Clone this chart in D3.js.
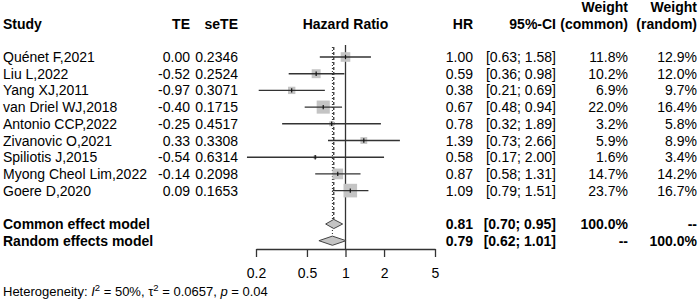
<!DOCTYPE html>
<html><head><meta charset="utf-8">
<script src="https://cdn.jsdelivr.net/npm/d3@7"></script>
<style>
body{margin:0;background:#fff;}
svg text{font-family:Arial,"Liberation Sans",sans-serif;font-size:14px;fill:#000;}
</style></head><body>
<svg id="c" width="699" height="301"></svg>
<script>
const studies = ["Quénet F,2021","Liu L,2022","Yang XJ,2011","van Driel WJ,2018","Antonio CCP,2022","Zivanovic O,2021","Spiliotis J,2015","Myong Cheol Lim,2022","Goere D,2020"];
const te = ["0.00","-0.52","-0.97","-0.40","-0.25","0.33","-0.54","-0.14","0.09"];
const seTE = ["0.2346","0.2524","0.3071","0.1715","0.4517","0.3308","0.6314","0.2098","0.1653"];
const hr = [1.00,0.59,0.38,0.67,0.78,1.39,0.58,0.87,1.09];
const lower = [0.63,0.36,0.21,0.48,0.32,0.73,0.17,0.58,0.79];
const upper = [1.58,0.98,0.69,0.94,1.89,2.66,2.00,1.31,1.51];
const wCommon = [11.8,10.2,6.9,22.0,3.2,5.9,1.6,14.7,23.7];
const wRandom = [12.9,12.0,9.7,16.4,5.8,8.9,3.4,14.2,16.7];
const pooledLabels = ["Common effect model","Random effects model"];
const pooledHR = [0.81,0.79];
const pooledLower = [0.70,0.62];
const pooledUpper = [0.95,1.01];
const pooledWc = ["100.0%","--"];
const pooledWr = ["--","100.0%"];
const ticks = [0.2,0.5,1,2,5];

const svg = d3.select("#c");
const x = d3.scaleLog().domain([0.2,5]).range([256,435]);
const row = d3.scaleLinear().domain([0,1]).range([57,57+16.7]);
const box = d3.scaleSqrt().domain([0,23.7]).range([0,13.6]);
const f2 = d3.format(".2f");
const f1 = v => d3.format(".1f")(v)+"%";

const cols = {study:3, te:190, se:238, hr:473, ci:556, wc:628, wr:697};

function txt(xp, yp, s, anchor, bold){
  return svg.append("text").attr("x",xp).attr("y",yp).attr("dy","0.36em")
    .attr("text-anchor",anchor||"start").style("font-weight",bold?"bold":"normal").text(s);
}

// headers
txt(cols.study,row(-2),"Study","start",true);
txt(cols.te,row(-2),"TE","end",true);
txt(cols.se,row(-2),"seTE","end",true);
txt(x(1),row(-2),"Hazard Ratio","middle",true);
txt(cols.hr,row(-2),"HR","end",true);
txt(cols.ci,row(-2),"95%-CI","end",true);
txt(cols.wc,row(-3),"Weight","end",true);
txt(cols.wc,row(-2),"(common)","end",true);
txt(cols.wr,row(-3),"Weight","end",true);
txt(cols.wr,row(-2),"(random)","end",true);

// reference lines
svg.append("line").attr("x1",x(1)).attr("x2",x(1)).attr("y1",row(0)-12).attr("y2",row(11)+8.5)
  .attr("stroke","#333").attr("stroke-width",1.3);
svg.append("line").attr("x1",x(pooledHR[0])).attr("x2",x(pooledHR[0])).attr("y1",row(0)-10).attr("y2",row(10)-4.5)
  .attr("stroke","#222").attr("stroke-width",1.2).attr("stroke-dasharray","3,2");
svg.append("line").attr("x1",x(pooledHR[1])).attr("x2",x(pooledHR[1])).attr("y1",row(0)-10).attr("y2",row(11)-4.5)
  .attr("stroke","#222").attr("stroke-width",1).attr("stroke-dasharray","1,2");

// studies
studies.forEach((s,i)=>{
  const y = row(i);
  txt(cols.study,y,s);
  txt(cols.te,y,te[i],"end");
  txt(cols.se,y,seTE[i],"end");
  txt(cols.hr,y,f2(hr[i]),"end");
  txt(cols.ci,y,"["+f2(lower[i])+"; "+f2(upper[i])+"]","end");
  txt(cols.wc,y,f1(wCommon[i]),"end");
  txt(cols.wr,y,f1(wRandom[i]),"end");
  const b = box(wCommon[i]);
  svg.append("rect").attr("x",x(hr[i])-b/2).attr("y",y-b/2).attr("width",b).attr("height",b)
    .attr("fill","#c4c4c4");
  svg.append("line").attr("x1",x(lower[i])).attr("x2",x(upper[i])).attr("y1",y).attr("y2",y)
    .attr("stroke","#333").attr("stroke-width",1.4);
  svg.append("line").attr("x1",x(hr[i])).attr("x2",x(hr[i])).attr("y1",y-2.2).attr("y2",y+2.2)
    .attr("stroke","#111").attr("stroke-width",1.2);
});

// pooled
pooledLabels.forEach((s,k)=>{
  const y = row(10+k);
  txt(cols.study,y,s,"start",true);
  txt(cols.hr,y,f2(pooledHR[k]),"end",true);
  txt(cols.ci,y,"["+f2(pooledLower[k])+"; "+f2(pooledUpper[k])+"]","end",true);
  txt(cols.wc,y,pooledWc[k],"end",true);
  txt(cols.wr,y,pooledWr[k],"end",true);
  const h = 4.6;
  const pts = [[x(pooledLower[k]),y],[x(pooledHR[k]),y-h],[x(pooledUpper[k]),y],[x(pooledHR[k]),y+h]];
  svg.append("polygon").attr("points",pts.map(p=>p.join(",")).join(" "))
    .attr("fill","#c4c4c4").attr("stroke","#444").attr("stroke-width",1);
});

// axis
const axisY = 249;
const ag = svg.append("g").attr("transform","translate(0,"+axisY+")");
ag.call(d3.axisBottom(x).tickValues(ticks).tickFormat(d=>String(d)).tickSize(8).tickSizeOuter(0).tickPadding(11));
ag.select(".domain").attr("stroke","#333").attr("stroke-width",1.3);
ag.selectAll(".tick line").attr("stroke","#333").attr("stroke-width",1.3);
ag.selectAll(".tick text").style("font-family","Arial,'Liberation Sans',sans-serif").style("font-size","14px").attr("fill","#000");

// heterogeneity
const ht = svg.append("text").attr("x",3).attr("y",291).attr("dy","0.36em").style("font-size","13px");
ht.append("tspan").text("Heterogeneity: ");
ht.append("tspan").style("font-style","italic").text("I");
ht.append("tspan").attr("dy","-5").style("font-size","9.5px").text("2");
ht.append("tspan").attr("dy","5").text(" = 50%, τ");
ht.append("tspan").attr("dy","-5").style("font-size","9.5px").text("2");
ht.append("tspan").attr("dy","5").text(" = 0.0657, ");
ht.append("tspan").style("font-style","italic").text("p");
ht.append("tspan").text(" = 0.04");
</script>
</body></html>
